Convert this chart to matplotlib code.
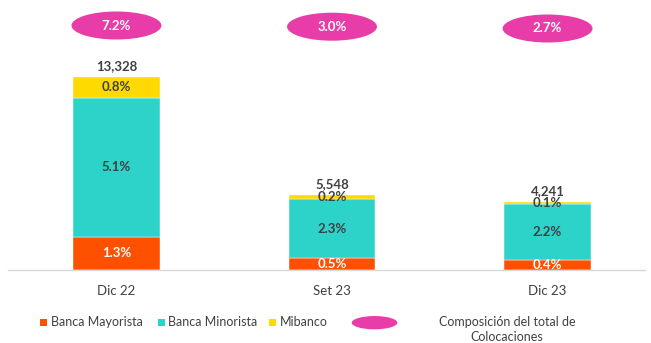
import matplotlib
matplotlib.use("Agg")
import matplotlib.pyplot as plt
from matplotlib.patches import Ellipse, Rectangle
from matplotlib.transforms import blended_transform_factory

plt.rcParams['font.family'] = ['Lato', 'DejaVu Sans']

# ---- data ----
categories = ["Dic 22", "Set 23", "Dic 23"]
mayorista = [2296, 830, 690]      # millions
minorista = [9584, 4040, 3860]
mibanco = [1448, 325, 160]
totals = [13328, 5548, 4241]
pct_mayorista = [1.3, 0.5, 0.4]
pct_minorista = [5.1, 2.3, 2.2]
pct_mibanco = [0.8, 0.2, 0.1]
pct_total = [7.2, 3.0, 2.7]
series_names = ["Banca Mayorista", "Banca Minorista", "Mibanco"]
legend_ellipse_label = "Composición del total de\nColocaciones"

C_ORANGE = "#FF5000"
C_TEAL = "#2DD3C9"
C_YELLOW = "#FFDA00"
C_PINK = "#E83DA9"
C_TEXT = "#404040"

W, H = 651, 343
fig = plt.figure(figsize=(W / 100, H / 100), dpi=100)
# axes from x=8..645 px, baseline at y=270 px from top, up to top
ax = fig.add_axes([8 / W, (H - 270) / H, 637 / W, 270 / H])
ax.set_xlim(-0.503, 2.452)
ax.set_ylim(0, 270 * 13328 / 193.3)
for s in ["top", "right", "left"]:
    ax.spines[s].set_visible(False)
ax.spines["bottom"].set_color("#D9D9D9")
ax.spines["bottom"].set_linewidth(1.0)
ax.set_yticks([])
ax.set_xticks([])

x = list(range(len(categories)))
bw = 0.403
ax.bar(x, mayorista, bw, color=C_ORANGE, edgecolor="white", linewidth=0.3)
bot2 = mayorista
ax.bar(x, minorista, bw, bottom=bot2, color=C_TEAL, edgecolor="white", linewidth=0.3)
bot3 = [a + b for a, b in zip(mayorista, minorista)]
ax.bar(x, mibanco, bw, bottom=bot3, color=C_YELLOW, edgecolor="white", linewidth=0.3)

fs = 9.5
for i in x:
    ax.text(i, mayorista[i] / 2, f"{pct_mayorista[i]:.1f}%", ha="center", va="center",
            color="white", fontsize=fs, fontweight="bold")
    ax.text(i, bot2[i] + minorista[i] / 2, f"{pct_minorista[i]:.1f}%", ha="center", va="center",
            color=C_TEXT, fontsize=fs, fontweight="bold")
    ax.text(i, bot3[i] + mibanco[i] / 2, f"{pct_mibanco[i]:.1f}%", ha="center", va="center",
            color=C_TEXT, fontsize=fs, fontweight="bold")
    top = bot3[i] + mibanco[i]
    ax.annotate(f"{totals[i]:,}", (i, top), xytext=(0, 3), textcoords="offset points",
                ha="center", va="bottom", color=C_TEXT, fontsize=fs, fontweight="bold")
    # category labels
    ax.annotate(categories[i], (i, 0), xytext=(0, -15), textcoords="offset points",
                ha="center", va="center", color=C_TEXT, fontsize=fs)

# pink ellipses at top with total composition
trans = blended_transform_factory(ax.transData, ax.transAxes)
ell_y = [1 - 25.5 / 270, 1 - 26.7 / 270, 1 - 28.5 / 270]
for i in x:
    e = Ellipse((i, ell_y[i]), width=90 / 215.75, height=28 / 270, transform=trans,
                facecolor=C_PINK, edgecolor="none", clip_on=False)
    ax.add_patch(e)
    ax.text(i, ell_y[i], f"{pct_total[i]:.1f}%", transform=trans, ha="center", va="center",
            color="white", fontsize=fs, fontweight="bold")

# legend (manual)
sq = 7
leg_y = 322
items = [(40, 51, C_ORANGE, series_names[0]),
         (157.7, 168, C_TEAL, series_names[1]),
         (269, 279.5, C_YELLOW, series_names[2])]
for sx, tx, col, lab in items:
    fig.patches.append(Rectangle((sx / W, (H - leg_y - sq / 2) / H), sq / W, sq / H,
                                 transform=fig.transFigure, facecolor=col, edgecolor="none"))
    fig.text(tx / W, (H - leg_y) / H, lab, ha="left", va="center", color=C_TEXT, fontsize=9)
fig.patches.append(Ellipse((374.5 / W, (H - 322.7) / H), 45.6 / W, 13.3 / H,
                           transform=fig.transFigure, facecolor=C_PINK, edgecolor="none"))
fig.text(507 / W, (H - 329.5) / H, legend_ellipse_label, ha="center", va="center",
         color=C_TEXT, fontsize=9, linespacing=1.35)

fig.savefig("out.png", dpi=100, facecolor="white")
